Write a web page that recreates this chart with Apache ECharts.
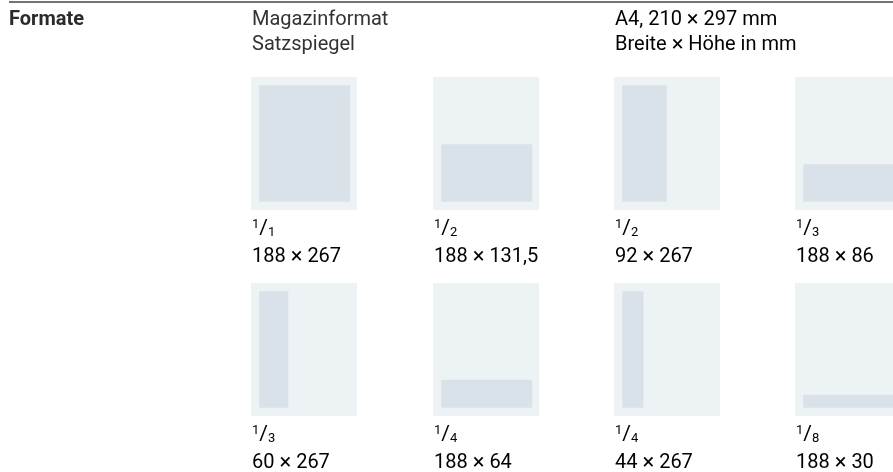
<!DOCTYPE html>
<html>
<head>
<meta charset="utf-8">
<script src="https://cdn.jsdelivr.net/npm/echarts@6/dist/echarts.min.js"></script>
<style>
  html, body { margin: 0; padding: 0; background: #fff; }
  #chart { width: 893px; height: 472px; }
</style>
</head>
<body>
<div id="chart"></div>
<script>
// Anzeigenformate, Breite x Höhe in mm (Satzspiegel 188 x 267)
const fractions = ["1/1", "1/2", "1/2", "1/3", "1/3", "1/4", "1/4", "1/8"];
const adWidths = [188, 188, 92, 188, 60, 188, 44, 188];
const adHeights = [267, 131.5, 267, 86, 267, 64, 267, 30];
const typeArea = [188, 267];

const colLeft = [251, 433, 614, 795];
const rowTop = [77, 283];
const boxW = 106;
const boxH = 133;
const font = "Roboto, 'DejaVu Sans', sans-serif";
const textColor = "#333";

const fmt = (v) => String(v).replace(".", ",");

const dimRich = {
  n: { fontSize: 20, fontFamily: font, color: textColor, lineHeight: 24 },
  x: { fontSize: 22, fontFamily: font, color: textColor, lineHeight: 24 },
};
const fracRich = {
  s: { fontSize: 13, fontFamily: font, color: textColor, verticalAlign: "top", lineHeight: 12 },
  l: { fontSize: 21, fontFamily: font, color: textColor, lineHeight: 21 },
  b: { fontSize: 13, fontFamily: font, color: textColor, verticalAlign: "bottom", lineHeight: 12 },
};

const grids = [], xAxes = [], yAxes = [], series = [];
const graphics = [
  {
    type: "line",
    shape: { x1: 9, y1: 2, x2: 893, y2: 2 },
    style: { stroke: "#444", lineWidth: 1.5 },
  },
  {
    type: "text", x: 9, y: 20,
    style: { text: "Formate", font: "bold 20px " + font, fill: "#2b2b2b", verticalAlign: "middle" },
  },
  {
    type: "text", x: 252, y: 20,
    style: { text: "Magazinformat", font: "20px " + font, fill: textColor, verticalAlign: "middle" },
  },
  {
    type: "text", x: 252, y: 45,
    style: { text: "Satzspiegel", font: "20px " + font, fill: textColor, verticalAlign: "middle" },
  },
  {
    type: "text", x: 615, y: 20,
    style: { text: "{n|A4, 210 }{x|×}{n| 297 mm}", rich: dimRich, verticalAlign: "middle" },
  },
  {
    type: "text", x: 615, y: 45,
    style: { text: "{n|Breite }{x|×}{n| Höhe in mm}", rich: dimRich, verticalAlign: "middle" },
  },
];

adWidths.forEach((w, i) => {
  const col = i % 4;
  const row = Math.floor(i / 4);
  const left = colLeft[col];
  const top = rowTop[row];
  const [num, den] = fractions[i].split("/");
  grids.push({
    left: left, top: top, width: boxW, height: boxH,
    outerBoundsMode: "none",
    show: true, backgroundColor: "#edf2f5", borderWidth: 0,
  });
  xAxes.push({ type: "value", gridIndex: i, min: -17, max: 202, show: false });
  yAxes.push({ type: "value", gridIndex: i, min: -19, max: 286, inverse: true, show: false });
  series.push({
    type: "custom",
    xAxisIndex: i,
    yAxisIndex: i,
    silent: true,
    data: [[w, adHeights[i]]],
    renderItem: function (params, api) {
      const p0 = api.coord([0, typeArea[1] - api.value(1)]);
      const p1 = api.coord([api.value(0), typeArea[1]]);
      return {
        type: "rect",
        shape: { x: p0[0], y: p0[1], width: p1[0] - p0[0], height: p1[1] - p0[1] },
        style: { fill: "#dae2e9" },
      };
    },
  });
  graphics.push({
    type: "text", x: left + 1, y: top + 152,
    style: {
      text: "{s|" + num + "}{l|/}{b|" + den + "}",
      rich: fracRich, verticalAlign: "middle",
    },
  });
  graphics.push({
    type: "text", x: left + 1, y: top + 180,
    style: {
      text: "{n|" + fmt(w) + " }{x|×}{n| " + fmt(adHeights[i]) + "}",
      rich: dimRich, verticalAlign: "middle",
    },
  });
});

const option = {
  animation: false,
  grid: grids,
  xAxis: xAxes,
  yAxis: yAxes,
  series: series,
  graphic: graphics,
};

const chart = echarts.init(document.getElementById("chart"));
chart.setOption(option);
</script>
</body>
</html>
